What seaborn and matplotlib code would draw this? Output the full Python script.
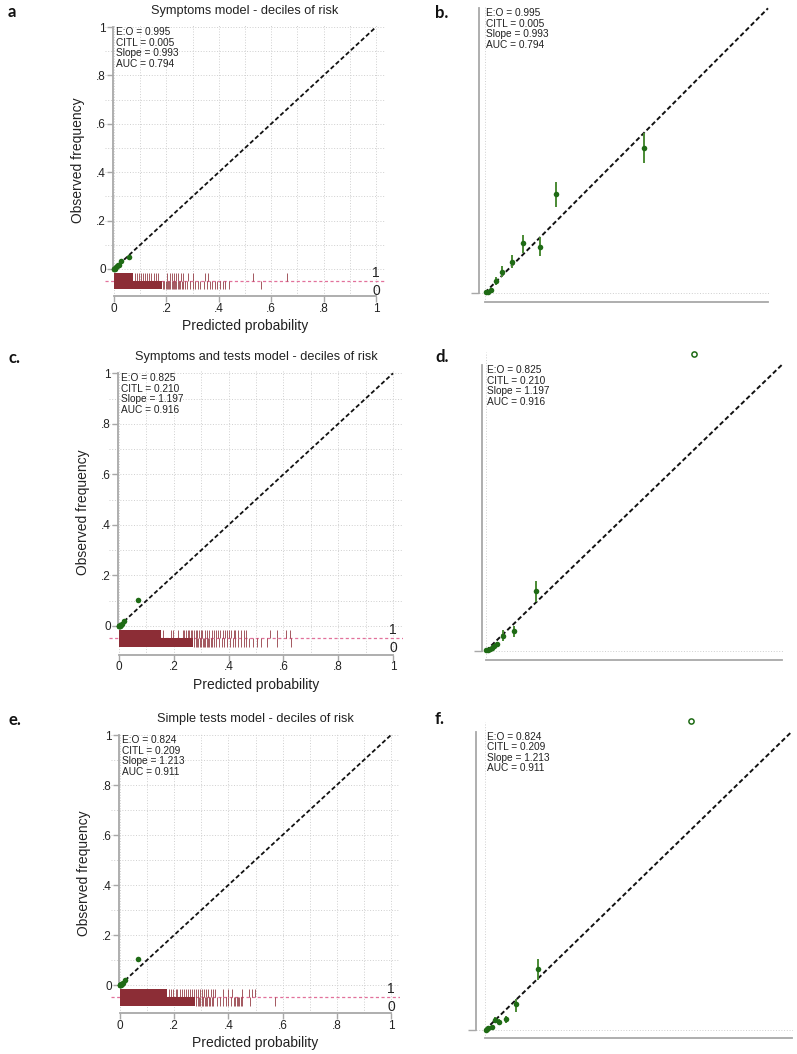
import matplotlib
matplotlib.use('Agg')
import matplotlib.pyplot as plt
import seaborn as sns
import numpy as np
import pandas as pd

sns.set_theme(style='white')
plt.rcParams['font.family'] = ['Liberation Sans', 'DejaVu Sans']

W, H = 797, 1054

# ---- data ----
titles = ['Symptoms model - deciles of risk',
          'Symptoms and tests model - deciles of risk',
          'Simple tests model - deciles of risk']
stats = ['E:O = 0.995\nCITL = 0.005\nSlope = 0.993\nAUC = 0.794',
         'E:O = 0.825\nCITL = 0.210\nSlope = 1.197\nAUC = 0.916',
         'E:O = 0.824\nCITL = 0.209\nSlope = 1.213\nAUC = 0.911']
letters_full = ['a', 'c.', 'e.']
letters_zoom = ['b.', 'd.', 'f.']

# deciles of risk: predicted, observed, CI low, CI high
sym_pred = [0.0003, 0.0010, 0.0022, 0.0038, 0.0061, 0.0096, 0.0135, 0.0193, 0.0251, 0.0562]
sym_obs = [0.0001, 0.0004, 0.0009, 0.0041, 0.0074, 0.0109, 0.0173, 0.0162, 0.0347, 0.0510]
sym_lo = [0.0001, 0.0004, 0.0009, 0.0027, 0.0054, 0.0086, 0.0138, 0.0129, 0.0302, 0.0455]
sym_hi = [0.0001, 0.0004, 0.0009, 0.0054, 0.0094, 0.0132, 0.0203, 0.0195, 0.0390, 0.0563]

st_pred = [0.0001, 0.0006, 0.0012, 0.0019, 0.0027, 0.0038, 0.0059, 0.0094, 0.0168, 0.0703]
st_obs = [0.0001, 0.0002, 0.0006, 0.0010, 0.0016, 0.0023, 0.0053, 0.0069, 0.0210, 0.1039]
st_lo = [0.0001, 0.0002, 0.0006, 0.0010, 0.0016, 0.0017, 0.0035, 0.0049, 0.0172, 0.1039]
st_hi = [0.0001, 0.0002, 0.0006, 0.0010, 0.0016, 0.0029, 0.0071, 0.0086, 0.0245, 0.1039]

sim_pred = [0.0002, 0.0005, 0.0011, 0.0022, 0.0032, 0.0047, 0.0068, 0.0100, 0.0173, 0.0672]
sim_obs = [0.0000, 0.0002, 0.0006, 0.0011, 0.0034, 0.0028, 0.0037, 0.0088, 0.0203, 0.1035]
sim_lo = [0.0000, 0.0002, 0.0006, 0.0011, 0.0024, 0.0019, 0.0022, 0.0061, 0.0169, 0.1035]
sim_hi = [0.0000, 0.0002, 0.0006, 0.0011, 0.0042, 0.0036, 0.0047, 0.0104, 0.0239, 0.1035]

# spike plot of predicted probabilities: solid block up to *_block, then single spikes
sym_pos_block = 0.072
sym_pos_spikes = [0.079, 0.086, 0.094, 0.102, 0.110, 0.118, 0.127, 0.135, 0.142, 0.152,
                  0.161, 0.168, 0.203, 0.212, 0.220, 0.228, 0.236, 0.244, 0.254, 0.264,
                  0.283, 0.302, 0.346, 0.357, 0.530, 0.660]
sym_neg_block = 0.184
sym_neg_spikes = [0.188, 0.192, 0.197, 0.201, 0.206, 0.210, 0.215, 0.220, 0.224, 0.229,
                  0.234, 0.238, 0.243, 0.248, 0.252, 0.258, 0.264, 0.270, 0.280, 0.290,
                  0.300, 0.310, 0.320, 0.330, 0.345, 0.355, 0.365, 0.375, 0.385, 0.395,
                  0.405, 0.415, 0.425, 0.440, 0.562]

st_pos_block = 0.155
st_pos_spikes = [0.162, 0.190, 0.198, 0.216, 0.232, 0.238, 0.244, 0.250, 0.256, 0.262,
                 0.268, 0.274, 0.280, 0.286, 0.292, 0.298, 0.304, 0.315, 0.322, 0.330,
                 0.338, 0.346, 0.354, 0.362, 0.370, 0.378, 0.386, 0.394, 0.402, 0.410,
                 0.418, 0.425, 0.435, 0.445, 0.455, 0.465, 0.550, 0.575, 0.610, 0.623]
st_neg_block = 0.271
st_neg_spikes = [0.275, 0.280, 0.285, 0.290, 0.295, 0.300, 0.305, 0.310, 0.315, 0.320,
                 0.325, 0.330, 0.335, 0.340, 0.345, 0.355, 0.365, 0.375, 0.385, 0.395,
                 0.405, 0.415, 0.425, 0.435, 0.445, 0.455, 0.465, 0.475, 0.490, 0.505,
                 0.520, 0.540, 0.578, 0.627]

sim_pos_block = 0.175
sim_pos_spikes = [0.182, 0.190, 0.197, 0.205, 0.212, 0.220, 0.228, 0.235, 0.242, 0.250,
                  0.258, 0.265, 0.272, 0.280, 0.288, 0.295, 0.302, 0.310, 0.318, 0.326,
                  0.334, 0.342, 0.350, 0.380, 0.397, 0.415, 0.450, 0.475, 0.487, 0.497]
sim_neg_block = 0.277
sim_neg_spikes = [0.282, 0.287, 0.292, 0.297, 0.302, 0.307, 0.312, 0.317, 0.322, 0.327,
                  0.332, 0.338, 0.345, 0.358, 0.370, 0.380, 0.390, 0.400, 0.410, 0.420,
                  0.425, 0.430, 0.435, 0.440, 0.445, 0.450, 0.480, 0.572]

models = [
    dict(pred=sym_pred, obs=sym_obs, lo=sym_lo, hi=sym_hi,
         pos_block=sym_pos_block, pos=sym_pos_spikes, neg_block=sym_neg_block, neg=sym_neg_spikes),
    dict(pred=st_pred, obs=st_obs, lo=st_lo, hi=st_hi,
         pos_block=st_pos_block, pos=st_pos_spikes, neg_block=st_neg_block, neg=st_neg_spikes),
    dict(pred=sim_pred, obs=sim_obs, lo=sim_lo, hi=sim_hi,
         pos_block=sim_pos_block, pos=sim_pos_spikes, neg_block=sim_neg_block, neg=sim_neg_spikes),
]

ticks = [0, 0.2, 0.4, 0.6, 0.8, 1]
tick_labels = ['0', '.2', '.4', '.6', '.8', '1']
zoom_max = 0.1

# ---- style ----
green = '#1f6b15'
bar_green = '#4a8a34'
maroon = '#8c2d36'
pink = '#e2719b'
spine_col = '#a8a8a8'
grid_col = '#cfcfcf'
txt_col = '#222222'
grid_ls = (0, (1, 1.8))
stat_fs = 7.3
stat_ls = 1.07

# pixel layout (origin px, px per unit)
full_layout = [dict(x0=114, sx=262, y0=269, sy=242),
               dict(x0=119, sx=274, y0=626, sy=252.7),
               dict(x0=120, sx=271, y0=985, sy=250)]
full_xlim = (-0.035, 1.035)
full_ylim = (-0.113, 1.01)
zoom_layout = [dict(x0=485, sx=2830, y0=292.7, sy=2844, xlim=(-0.0021, 0.1005), ylim=(-0.0032, 0.1005)),
               dict(x0=486, sx=2957, y0=650.7, sy=2857, xlim=(-0.0014, 0.1005), ylim=(-0.0033, 0.1046)),
               dict(x0=485, sx=3067, y0=1030, sy=2983, xlim=(-0.0029, 0.1005), ylim=(-0.0027, 0.1032))]
letter_full_px = [(12, 12), (15, 358), (15, 720)]
letter_zoom_px = [(442, 13), (442, 357), (440, 719)]


def rect(x0, sx, y0, sy, xlim, ylim):
    left = x0 + xlim[0] * sx
    right = x0 + xlim[1] * sx
    top = y0 - ylim[1] * sy
    bottom = y0 - ylim[0] * sy
    return [left / W, 1 - bottom / H, (right - left) / W, (bottom - top) / H]


fig = plt.figure(figsize=(W / 100, H / 100), dpi=100)
fig.patch.set_facecolor('white')

for i, m in enumerate(models):
    # ---------- full range panel ----------
    L = full_layout[i]
    ax = fig.add_axes(rect(L['x0'], L['sx'], L['y0'], L['sy'], full_xlim, full_ylim))
    ax.set_facecolor('white')
    ax.set_xlim(full_xlim)
    ax.set_ylim(full_ylim)
    for g in np.arange(0, 1.01, 0.1):
        ax.axvline(g, color=grid_col, lw=0.7, ls=grid_ls, zorder=0)
        ax.axhline(g, color=grid_col, lw=0.7, ls=grid_ls, zorder=0)

    sns.lineplot(x=[0, 1], y=[0, 1], ax=ax, color='#111111', lw=1.3,
                 dashes=False, zorder=3).lines[-1].set_dashes((2.4, 1.4))

    # spike plot
    rug_mid, rug_top, rug_bot = -0.049, -0.017, -0.083
    ax.axhline(rug_mid, color=pink, lw=0.9, ls=(0, (2.5, 2)), zorder=1)
    ax.fill_between([0, m['pos_block']], rug_mid, rug_top, color=maroon, lw=0, zorder=2)
    ax.vlines(m['pos'], rug_mid, rug_top, color=maroon, lw=0.7, alpha=0.8, zorder=2)
    ax.fill_between([0, m['neg_block']], rug_bot, rug_mid, color=maroon, lw=0, zorder=2)
    ax.vlines(m['neg'], rug_bot, rug_mid, color=maroon, lw=0.7, alpha=0.8, zorder=2)
    ax.text(1.0, -0.017, '1', ha='center', va='center', fontsize=10, color=txt_col)
    ax.text(1.0, -0.089, '0', ha='center', va='center', fontsize=10, color=txt_col)

    df = pd.DataFrame({'pred': m['pred'], 'obs': m['obs']})
    sns.scatterplot(data=df, x='pred', y='obs', ax=ax, color=green, s=16,
                    linewidth=0, zorder=4, clip_on=False)

    ax.text(0.008, 1.0, stats[i], ha='left', va='top', fontsize=stat_fs, color=txt_col,
            linespacing=stat_ls)

    for s in ['top', 'right']:
        ax.spines[s].set_visible(False)
    ax.spines['left'].set_position(('data', -0.004))
    ax.spines['left'].set_bounds(0, 1)
    ax.spines['bottom'].set_bounds(0, 1)
    for s in ['left', 'bottom']:
        ax.spines[s].set_color(spine_col)
        ax.spines[s].set_linewidth(1.3)
    ax.set_xticks(ticks)
    ax.set_xticklabels(tick_labels)
    ax.set_yticks(ticks)
    ax.set_yticklabels(tick_labels)
    ax.tick_params(axis='both', length=4, width=1, color=spine_col, labelsize=8.5,
                   labelcolor=txt_col, pad=1, direction='out', bottom=True, left=True)
    ax.set_xlabel('Predicted probability', fontsize=10, color=txt_col, labelpad=3)
    ax.set_ylabel('Observed frequency', fontsize=10, color=txt_col, labelpad=8)
    ax.set_title(titles[i], fontsize=9.2, color=txt_col, pad=7.5)

    fx, fy = letter_full_px[i]
    fig.text(fx / W, 1 - fy / H, letters_full[i], fontsize=12, fontweight='bold',
             family=['Lato', 'DejaVu Sans'], ha='center', va='center', color='#111111')

    # ---------- zoomed panel ----------
    Z = zoom_layout[i]
    az = fig.add_axes(rect(Z['x0'], Z['sx'], Z['y0'], Z['sy'], Z['xlim'], Z['ylim']))
    az.set_facecolor('none')
    az.set_xlim(Z['xlim'])
    az.set_ylim(Z['ylim'])
    az.axvline(0, color=grid_col, lw=0.7, ls=grid_ls, zorder=0)
    az.axhline(0, color=grid_col, lw=0.7, ls=grid_ls, zorder=0)

    sns.lineplot(x=[0, zoom_max], y=[0, zoom_max], ax=az, color='#111111', lw=1.4,
                 dashes=False, zorder=3).lines[-1].set_dashes((2.4, 1.4))

    inside = df[df['obs'] <= zoom_max]
    outside = df[df['obs'] > zoom_max]
    lo = np.array(m['lo'])
    hi = np.array(m['hi'])
    has_bar = (hi - lo > 0) & (np.array(m['obs']) <= zoom_max)
    az.vlines(np.array(m['pred'])[has_bar], lo[has_bar], hi[has_bar], color=bar_green,
              lw=1.4, zorder=4)
    sns.scatterplot(data=inside, x='pred', y='obs', ax=az, color=green, s=16,
                    linewidth=0, zorder=5, clip_on=False)
    if len(outside):
        sns.scatterplot(data=outside, x='pred', y='obs', ax=az, facecolor='white',
                        edgecolor=green, s=14, linewidth=1.1, zorder=5, clip_on=False)

    az.text(0.0005, zoom_max, stats[i], ha='left', va='top', fontsize=stat_fs, color=txt_col,
            linespacing=stat_ls)

    for s in ['top', 'right']:
        az.spines[s].set_visible(False)
    az.spines['left'].set_bounds(0, zoom_max)
    az.spines['bottom'].set_bounds(0, zoom_max)
    for s in ['left', 'bottom']:
        az.spines[s].set_color(spine_col)
        az.spines[s].set_linewidth(1.3)
    az.set_xticks([])
    az.set_yticks([0])
    az.set_yticklabels([])
    az.tick_params(axis='y', length=6, width=1, color=spine_col, left=True, direction='out')
    az.set_xlabel('')
    az.set_ylabel('')

    zx, zy = letter_zoom_px[i]
    fig.text(zx / W, 1 - zy / H, letters_zoom[i], fontsize=12, fontweight='bold',
             family=['Lato', 'DejaVu Sans'], ha='center', va='center', color='#111111')

fig.savefig('out.png', dpi=100, facecolor='white')
